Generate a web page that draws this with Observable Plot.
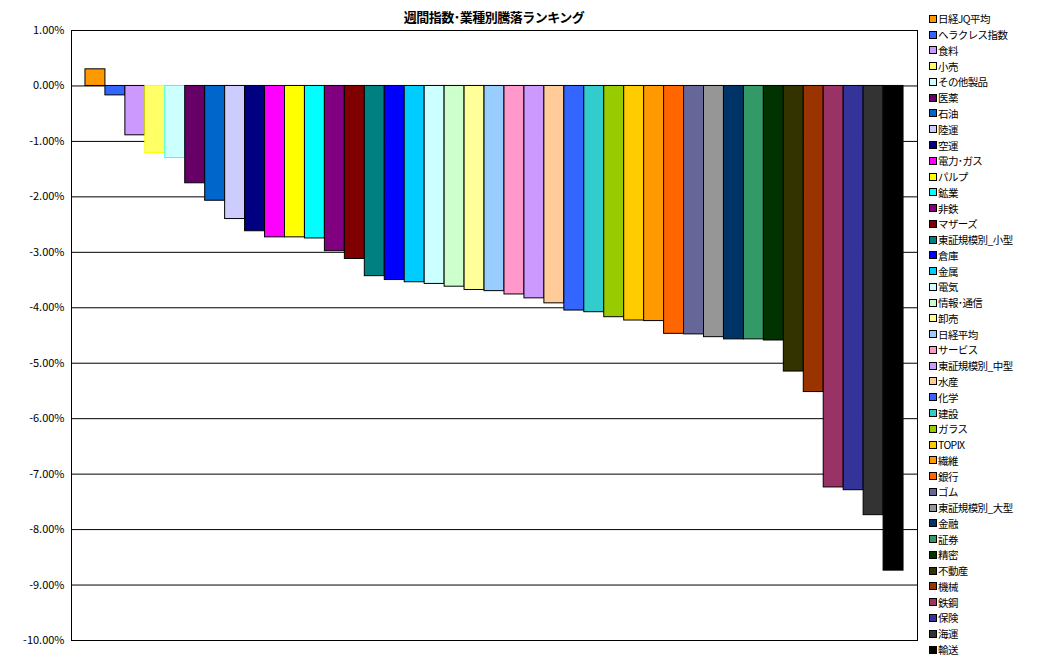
<!DOCTYPE html>
<html><head><meta charset="utf-8">
<script src="https://cdn.jsdelivr.net/npm/d3@7"></script>
<script src="https://cdn.jsdelivr.net/npm/@observablehq/plot@0.6"></script>
<style>
body{margin:0;background:#fff;font-family:"Noto Sans CJK JP",sans-serif;}
#wrap{position:relative;width:1056px;height:665px;}
#title{position:absolute;left:0;width:988px;top:7px;text-align:center;font-size:13px;font-weight:bold;letter-spacing:-0.5px;}
#legend{position:absolute;left:929px;top:11px;font-size:10.5px;}
.li{height:15.78px;display:flex;align-items:center;white-space:nowrap;letter-spacing:-0.6px;}
.sw{width:6px;height:6px;border:1px solid #000;margin-right:1px;flex:none;}
</style></head>
<body><div id="wrap"><div id="chart"></div><div id="title">週間指数･業種別騰落ランキング</div><div id="legend"></div></div>
<script>
const names = ["日経JQ平均","ヘラクレス指数","食料","小売","その他製品","医薬","石油","陸運","空運","電力･ガス","パルプ","鉱業","非鉄","マザーズ","東証規模別_小型","倉庫","金属","電気","情報･通信","卸売","日経平均","サービス","東証規模別_中型","水産","化学","建設","ガラス","TOPIX","繊維","銀行","ゴム","東証規模別_大型","金融","証券","精密","不動産","機械","鉄鋼","保険","海運","輸送"];
const values = [0.30,-0.17,-0.89,-1.21,-1.30,-1.755,-2.07,-2.40,-2.62,-2.73,-2.73,-2.75,-2.98,-3.12,-3.43,-3.50,-3.54,-3.57,-3.62,-3.68,-3.70,-3.76,-3.83,-3.92,-4.05,-4.08,-4.17,-4.23,-4.24,-4.47,-4.48,-4.53,-4.57,-4.57,-4.59,-5.15,-5.52,-7.24,-7.29,-7.74,-8.74];
const colors = ["#FF9900","#3366FF","#CC99FF","#FFFF66","#CCFFFF","#660066","#0066CC","#CCCCFF","#000080","#FF00FF","#FFFF00","#00FFFF","#800080","#800000","#008080","#0000FF","#00CCFF","#CCFFFF","#CCFFCC","#FFFF99","#99CCFF","#FF99CC","#CC99FF","#FFCC99","#3366FF","#33CCCC","#99CC00","#FFCC00","#FF9900","#FF6600","#666699","#969696","#003366","#339966","#003300","#333300","#993300","#993366","#333399","#333333","#000000"];
const strokes = ["#000","#000","#000","#FFFF00","#33FFFF","#000","#000","#000","#000","#000","#000","#000","#000","#000","#000","#000","#000","#000","#000","#000","#000","#000","#000","#000","#000","#000","#000","#000","#000","#000","#000","#000","#000","#000","#000","#000","#000","#000","#000","#000","#000"];
const yTicks = [1,0,-1,-2,-3,-4,-5,-6,-7,-8,-9,-10];

const data = names.map((n,i)=>({name:n,value:values[i],fill:colors[i],stroke:strokes[i]}));

const chart = Plot.plot({
  width: 930, height: 665,
  marginTop: 30, marginBottom: 25, marginLeft: 71, marginRight: 13,
  style: {fontFamily: '"Noto Sans CJK JP", sans-serif', fontSize: "11px", color: "#000", background: "#fff"},
  x: {domain: names, axis: null, paddingInner: 0, paddingOuter: 0.7},
  y: {domain: [-10, 1], ticks: yTicks, tickFormat: d => d.toFixed(2) + "%", tickSize: 0, tickPadding: 7, label: null},
  marks: [
    Plot.ruleY(yTicks, {stroke: "#000", strokeWidth: 1}),
    Plot.barY(data, {x: "name", y: "value", fill: "fill", stroke: "stroke", strokeWidth: 1}),
    Plot.frame({stroke: "#000", strokeWidth: 1})
  ]
});
document.getElementById("chart").appendChild(chart);

const lg = document.getElementById("legend");
names.forEach((n,i)=>{
  const d = document.createElement("div"); d.className="li";
  const s = document.createElement("span"); s.className="sw"; s.style.background=colors[i];
  const t = document.createElement("span"); t.textContent=n;
  d.appendChild(s); d.appendChild(t); lg.appendChild(d);
});
</script></body></html>
